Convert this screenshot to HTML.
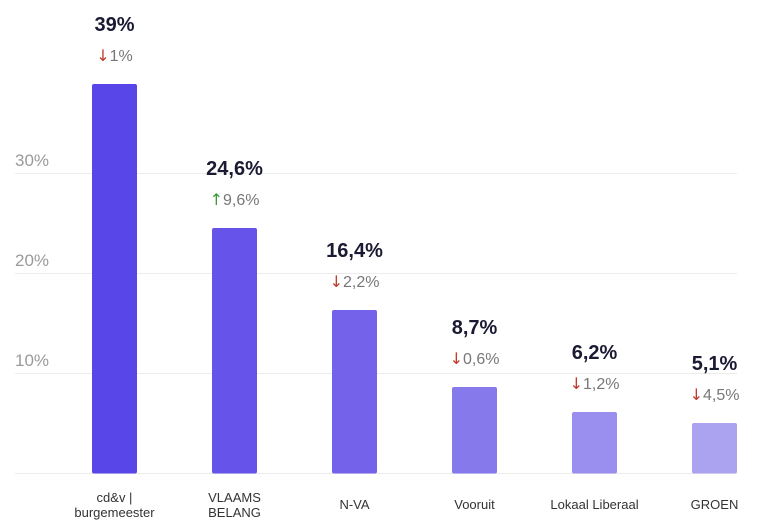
<!DOCTYPE html>
<html><head><meta charset="utf-8"><style>
html,body{margin:0;padding:0;background:#fff;}
svg{display:block;font-family:"Liberation Sans",sans-serif;}
.a{font-family:"DejaVu Sans",sans-serif;font-size:16px;}
</style></head><body>
<svg width="773" height="532" viewBox="0 0 773 532">
<g stroke="#ececec" stroke-width="1">
<line x1="15" y1="173.5" x2="737" y2="173.5"/>
<line x1="15" y1="273.5" x2="737" y2="273.5"/>
<line x1="15" y1="373.5" x2="737" y2="373.5"/>
<line x1="15" y1="473.5" x2="737" y2="473.5"/>
</g>
<g fill="#9a9a9a" font-size="17">
<text x="15" y="166">30%</text>
<text x="15" y="266">20%</text>
<text x="15" y="366">10%</text>
</g>
<g>
<rect x="92" y="84" width="45" height="389.5" rx="2" fill="#5846e8"/>
<rect x="212" y="228" width="45" height="245.5" rx="2" fill="#6653ea"/>
<rect x="332" y="310" width="45" height="163.5" rx="2" fill="#7462ea"/>
<rect x="452" y="387" width="45" height="86.5" rx="2" fill="#8579eb"/>
<rect x="572" y="412" width="45" height="61.5" rx="2" fill="#9a8fee"/>
<rect x="692" y="423" width="45" height="50.5" rx="2" fill="#aba3f0"/>
</g>
<g font-size="20" font-weight="bold" fill="#1a1a33" text-anchor="middle">
<text x="114.5" y="31">39%</text>
<text x="234.5" y="175">24,6%</text>
<text x="354.5" y="257">16,4%</text>
<text x="474.5" y="334">8,7%</text>
<text x="594.5" y="359">6,2%</text>
<text x="714.5" y="370">5,1%</text>
</g>
<g font-size="16" fill="#777" text-anchor="middle">
<text x="114.5" y="61"><tspan class="a" fill="#c0392b">↓</tspan>1%</text>
<text x="234.5" y="205"><tspan class="a" fill="#3a9a3a">↑</tspan>9,6%</text>
<text x="354.5" y="287"><tspan class="a" fill="#c0392b">↓</tspan>2,2%</text>
<text x="474.5" y="364"><tspan class="a" fill="#c0392b">↓</tspan>0,6%</text>
<text x="594.5" y="389"><tspan class="a" fill="#c0392b">↓</tspan>1,2%</text>
<text x="714.5" y="400"><tspan class="a" fill="#c0392b">↓</tspan>4,5%</text>
</g>
<g font-size="13" fill="#333" text-anchor="middle">
<text x="114.5" y="502">cd&amp;v |</text>
<text x="114.5" y="517">burgemeester</text>
<text x="234.5" y="502">VLAAMS</text>
<text x="234.5" y="517">BELANG</text>
<text x="354.5" y="509">N-VA</text>
<text x="474.5" y="509">Vooruit</text>
<text x="594.5" y="509">Lokaal Liberaal</text>
<text x="714.5" y="509">GROEN</text>
</g>
</svg>
</body></html>
